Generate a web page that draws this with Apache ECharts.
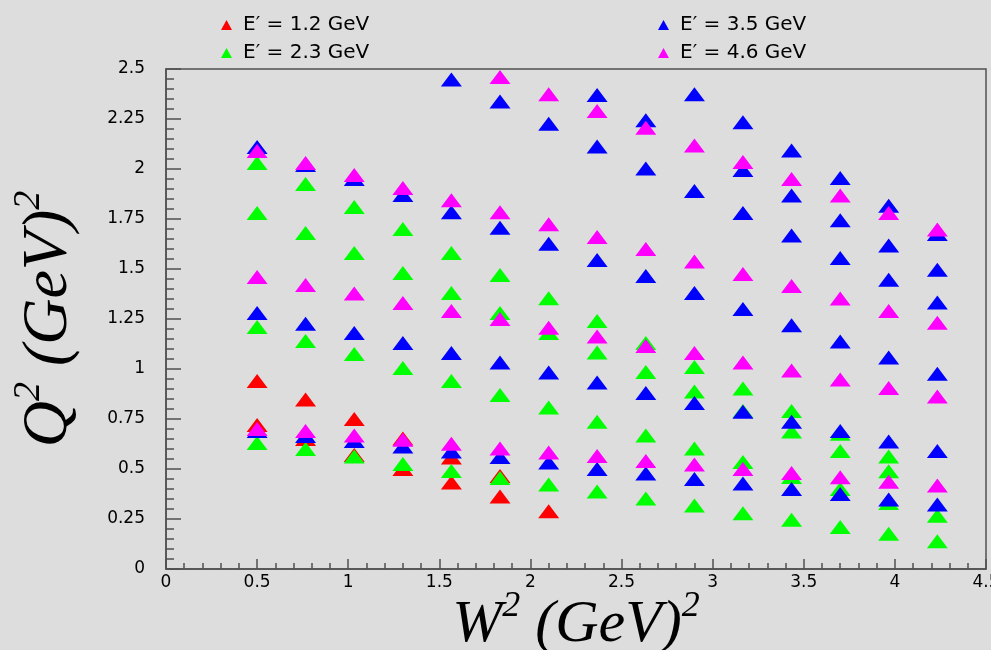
<!DOCTYPE html>
<html>
<head>
<meta charset="utf-8">
<script src="https://cdn.jsdelivr.net/npm/echarts@6/dist/echarts.min.js"></script>
<style>
html,body{margin:0;padding:0;background:#dddddd;}
#chart{width:991px;height:650px;}
</style>
</head>
<body>
<div id="chart"></div>
<script>
// W^2 bin centres (GeV^2)
const w2 = [0.5, 0.766, 1.033, 1.3, 1.566, 1.833, 2.1, 2.366, 2.633, 2.9, 3.166, 3.433, 3.7, 3.966, 4.233];

// Q^2 values per W^2 column, one array per beam-energy setting
const q2_E12 = [
  [0.94, 0.72], [0.847, 0.65], [0.75, 0.57], [0.653, 0.50], [0.558, 0.432],
  [0.465, 0.362], [0.289], [], [], [], [], [], [], [], []
];
const q2_E23 = [
  [2.03, 1.78, 1.21, 0.63], [1.925, 1.68, 1.14, 0.60], [1.81, 1.58, 1.075, 0.563],
  [1.70, 1.48, 1.005, 0.525], [1.58, 1.38, 0.94, 0.49], [1.47, 1.28, 0.87, 0.455],
  [1.354, 1.18, 0.807, 0.422], [1.24, 1.083, 0.736, 0.387], [1.13, 0.985, 0.668, 0.352],
  [1.01, 0.887, 0.603, 0.317], [0.902, 0.79, 0.535, 0.279], [0.79, 0.688, 0.46, 0.246],
  [0.676, 0.59, 0.40, 0.21], [0.563, 0.489, 0.33, 0.176], [0.266, 0.139]
];
const q2_E35 = [
  [2.11, 1.28, 0.69], [2.02, 1.226, 0.665], [1.95, 1.18, 0.64], [1.87, 1.13, 0.613],
  [2.447, 1.784, 1.08, 0.588], [2.337, 1.706, 1.033, 0.56], [2.226, 1.626, 0.982, 0.533],
  [2.37, 2.113, 1.545, 0.932, 0.50], [2.244, 2.003, 1.465, 0.88, 0.477],
  [2.374, 1.89, 1.38, 0.83, 0.45], [2.234, 1.995, 1.78, 1.30, 0.786, 0.427],
  [2.093, 1.867, 1.668, 1.219, 0.736, 0.40], [1.955, 1.744, 1.555, 1.137, 0.69, 0.375],
  [1.816, 1.618, 1.446, 1.057, 0.638, 0.348], [1.675, 1.496, 1.333, 0.976, 0.59, 0.322]
];
const q2_E46 = [
  [2.09, 1.46, 0.70], [2.03, 1.42, 0.69], [1.97, 1.377, 0.668], [1.905, 1.33, 0.646],
  [1.844, 1.29, 0.626], [2.46, 1.784, 1.25, 0.603], [2.374, 1.724, 1.206, 0.583],
  [2.29, 1.66, 1.163, 0.565], [2.206, 1.60, 1.115, 0.54], [2.118, 1.537, 1.08, 0.523],
  [2.035, 1.475, 1.033, 0.50], [1.95, 1.415, 0.992, 0.48], [1.867, 1.352, 0.947, 0.459],
  [1.78, 1.29, 0.905, 0.436], [1.697, 1.231, 0.863, 0.417]
];

const seriesNames = ['E\u2032 = 1.2 GeV', 'E\u2032 = 2.3 GeV', 'E\u2032 = 3.5 GeV', 'E\u2032 = 4.6 GeV'];
const seriesColors = ['#ff0000', '#00ff00', '#0000ff', '#ff00ff'];
const seriesValues = [q2_E12, q2_E23, q2_E35, q2_E46];

function pairs(cols) {
  const out = [];
  cols.forEach((vals, i) => vals.forEach(v => out.push([w2[i], v])));
  return out;
}

const axisColor = '#505050';
const labelFont = {fontFamily: 'DejaVu Sans', fontSize: 17, color: '#000'};
function titleStyle(size) {
  return {
    fontFamily: 'Liberation Serif', fontStyle: 'italic', fontSize: size, color: '#000',
    rich: {
      t: {fontFamily: 'Liberation Serif', fontStyle: 'italic', fontSize: size, lineHeight: Math.round(size * 1.22), color: '#000'},
      s: {fontFamily: 'Liberation Serif', fontStyle: 'italic', fontSize: Math.round(size * 0.6), color: '#000', verticalAlign: 'top'}
    }
  };
}
const legendText = {fontFamily: 'DejaVu Sans', fontSize: 20, color: '#000', lineHeight: 20, padding: [0, 0, 0, 6]};

const chart = echarts.init(document.getElementById('chart'), null, {renderer: 'canvas'});
chart.setOption({
  animation: false,
  backgroundColor: '#dddddd',
  legend: [
    {data: [seriesNames[0], seriesNames[1]], orient: 'vertical', left: 216, top: 10,
     icon: 'triangle', itemWidth: 11, itemHeight: 10, itemGap: 8, textStyle: legendText, selectedMode: false},
    {data: [seriesNames[2], seriesNames[3]], orient: 'vertical', left: 653, top: 10,
     icon: 'triangle', itemWidth: 11, itemHeight: 10, itemGap: 8, textStyle: legendText, selectedMode: false}
  ],
  grid: {left: 166, top: 69, right: 5, bottom: 81, outerBoundsMode: 'none', containLabel: false,
         show: true, borderColor: axisColor, borderWidth: 1.5, backgroundColor: 'transparent'},
  xAxis: {
    type: 'value', min: 0, max: 4.5, interval: 0.5,
    name: '{t|W}{s|2}{t| (GeV)}{s|2}', nameLocation: 'middle', nameGap: 20, nameMoveOverlap: false,
    nameTextStyle: titleStyle(60),
    axisLine: {show: true, lineStyle: {color: axisColor, width: 1.5}},
    axisTick: {show: true, inside: true, length: 10, lineStyle: {color: axisColor, width: 1.5}},
    minorTick: {show: true, splitNumber: 5, length: 6, lineStyle: {color: axisColor, width: 1.5}},
    axisLabel: Object.assign({margin: 5, showMaxLabel: true, showMinLabel: true}, labelFont),
    splitLine: {show: false}, minorSplitLine: {show: false}
  },
  yAxis: {
    type: 'value', min: 0, max: 2.5, interval: 0.25,
    name: '{t|Q}{s|2}{t| (GeV)}{s|2}', nameLocation: 'middle', nameGap: 78, nameRotate: 90, nameMoveOverlap: false,
    nameTextStyle: titleStyle(64),
    axisLine: {show: true, lineStyle: {color: axisColor, width: 1.5}},
    axisTick: {show: true, inside: true, length: 15, lineStyle: {color: axisColor, width: 1.5}},
    minorTick: {show: true, splitNumber: 5, length: 8, lineStyle: {color: axisColor, width: 1.5}},
    axisLabel: Object.assign({margin: 21}, labelFont),
    splitLine: {show: false}, minorSplitLine: {show: false}
  },
  series: seriesNames.map((name, k) => ({
    name: name, type: 'scatter', symbol: 'triangle', symbolSize: [21, 14],
    itemStyle: {color: seriesColors[k], opacity: 1},
    emphasis: {disabled: true},
    data: pairs(seriesValues[k])
  }))
});
</script>
</body>
</html>
